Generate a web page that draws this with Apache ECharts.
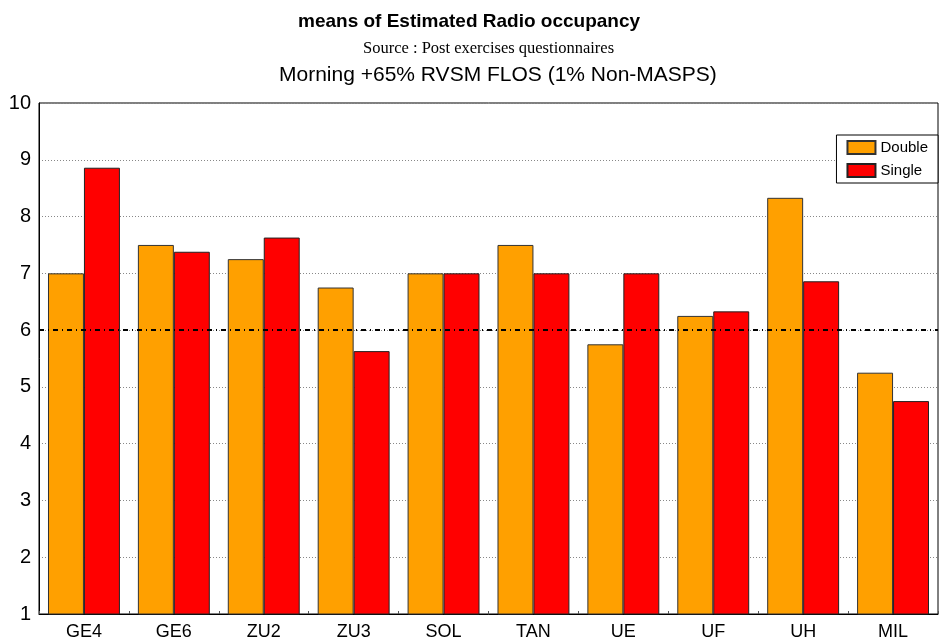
<!DOCTYPE html>
<html>
<head>
<meta charset="utf-8">
<script src="https://cdn.jsdelivr.net/npm/echarts@6/dist/echarts.min.js"></script>
<style>
  html, body { margin: 0; padding: 0; background: #fff; }
  #chart { width: 939px; height: 641px; }
</style>
</head>
<body>
<div id="chart"></div>
<script>
// data
var categories = ['GE4', 'GE6', 'ZU2', 'ZU3', 'SOL', 'TAN', 'UE', 'UF', 'UH', 'MIL']
var doubleValues = [7, 7.5, 7.25, 6.75, 7, 7.5, 5.75, 6.25, 8.33, 5.25]
var singleValues = [8.86, 7.38, 7.63, 5.63, 7, 7, 7, 6.33, 6.86, 4.75]
var refLevel = 6
var yTicks = [1, 10, 1] // min, max, step

var chart = echarts.init(document.getElementById('chart'))

var font = 'Liberation Sans, Arial, sans-serif'

var option = {
  animation: false,
  title: [
    {
      text: 'means of Estimated Radio occupancy',
      left: 293,
      top: 7,
      textStyle: { fontFamily: font, fontSize: 19, fontWeight: 'bold', color: '#000' }
    },
    {
      text: 'Source : Post exercises questionnaires',
      left: 358,
      top: 35,
      textStyle: { fontFamily: 'Liberation Serif, Times New Roman, serif', fontSize: 16.5, fontWeight: 'normal', color: '#000' }
    },
    {
      text: 'Morning +65% RVSM FLOS (1% Non-MASPS)',
      left: 274,
      top: 60,
      textStyle: { fontFamily: font, fontSize: 21, fontWeight: 'normal', color: '#000' }
    }
  ],
  legend: {
    orient: 'vertical',
    right: 1,
    top: 135,
    icon: 'rect',
    itemWidth: 28,
    itemHeight: 13,
    itemGap: 8,
    padding: [5, 10, 5, 10],
    borderColor: '#000',
    borderWidth: 1,
    backgroundColor: '#fff',
    textStyle: { fontFamily: font, fontSize: 15, color: '#000' },
    data: ['Double', 'Single']
  },
  grid: {
    left: 39,
    right: 1,
    top: 103,
    bottom: 27,
    show: true,
    borderColor: '#000',
    borderWidth: 1
  },
  xAxis: {
    type: 'category',
    data: categories,
    axisLine: { lineStyle: { color: '#000' } },
    axisTick: { show: true, inside: true, length: 3, lineStyle: { color: '#555' } },
    axisLabel: { fontFamily: font, fontSize: 18, color: '#000', margin: 9 }
  },
  yAxis: {
    type: 'value',
    min: yTicks[0],
    max: yTicks[1],
    interval: yTicks[2],
    axisLine: { show: true, lineStyle: { color: '#000' } },
    axisTick: { show: false },
    axisLabel: { fontFamily: font, fontSize: 20, color: '#000', margin: 8, padding: [4, 0, 0, 0] },
    splitLine: { show: true, lineStyle: { color: '#888', type: [1, 2], width: 1 } }
  },
  series: [
    {
      name: 'Double',
      type: 'bar',
      data: doubleValues,
      barGap: '0%',
      barCategoryGap: '20%',
      itemStyle: { color: '#FFA000', borderColor: '#333', borderWidth: 1 },
      markLine: {
        silent: true,
        symbol: 'none',
        label: { show: false },
        lineStyle: { color: '#000', type: [5, 4, 1, 4], width: 2 },
        data: [{ yAxis: refLevel }]
      }
    },
    {
      name: 'Single',
      type: 'bar',
      data: singleValues,
      itemStyle: { color: '#FF0000', borderColor: '#222', borderWidth: 1 }
    }
  ]
}

chart.setOption(option)
</script>
</body>
</html>
